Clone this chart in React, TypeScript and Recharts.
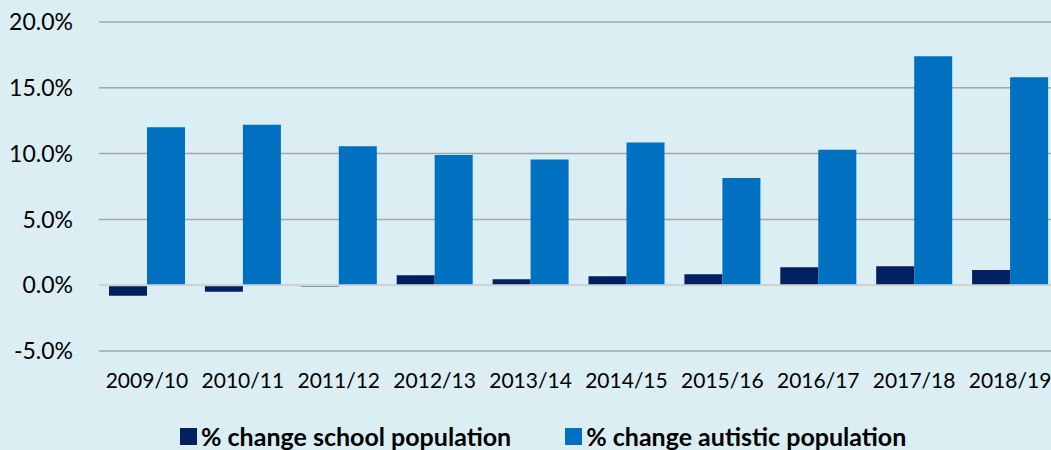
import { Bar, BarChart, CartesianGrid, Legend, ReferenceLine, XAxis, YAxis } from 'recharts';

const years = ['2009/10', '2010/11', '2011/12', '2012/13', '2013/14', '2014/15', '2015/16', '2016/17', '2017/18', '2018/19'];
const schoolChange = [-0.8, -0.5, -0.1, 0.75, 0.45, 0.68, 0.84, 1.37, 1.44, 1.16];
const autisticChange = [12.0, 12.2, 10.55, 9.9, 9.55, 10.85, 8.15, 10.3, 17.4, 15.8];
const yTicks = [-5, 0, 5, 10, 15, 20];

const colors = {
  school: '#002060',
  autistic: '#0070C0',
  bg: '#DAEEF3',
  grid: '#A6A6A6',
  zero: '#D0D4D6',
};

const data = years.map((year, i) => ({
  year,
  school: schoolChange[i],
  autistic: autisticChange[i],
}));

const legendItems = [
  { label: '% change school population', color: colors.school },
  { label: '% change autistic population', color: colors.autistic },
];

function ChartLegend() {
  return (
    <div
      style={{
        height: 44,
        boxSizing: 'border-box',
        paddingTop: 16,
        display: 'flex',
        alignItems: 'center',
        paddingLeft: 180,
        gap: 54,
      }}
    >
      {legendItems.map((item) => (
        <div key={item.label} style={{ display: 'flex', alignItems: 'center' }}>
          <span style={{ width: 17, height: 17, background: item.color, marginRight: 4, display: 'inline-block' }} />
          <span style={{ fontFamily: 'Lato', fontWeight: 700, fontSize: 25, color: '#000', whiteSpace: 'nowrap' }}>
            {item.label}
          </span>
        </div>
      ))}
    </div>
  );
}

export default function App() {
  return (
    <div style={{ position: 'absolute', left: 0, top: 0, width: 1051, height: 450, overflow: 'hidden', background: colors.bg }}>
      <BarChart
        width={1058}
        height={450}
        data={data}
        margin={{ top: 22, right: 0, left: 0, bottom: 0 }}
        barCategoryGap={10}
        barGap={0}
      >
        <CartesianGrid vertical={false} stroke={colors.grid} strokeWidth={1.5} />
        <XAxis
          dataKey="year"
          height={55}
          axisLine={false}
          tickLine={false}
          tickMargin={16}
          tick={{ fontFamily: 'Lato', fontSize: 21, fill: '#000' }}
        />
        <YAxis
          width={99}
          domain={[-5, 20]}
          ticks={yTicks}
          axisLine={false}
          tickLine={false}
          tickMargin={20}
          tickFormatter={(v) => `${Number(v).toFixed(1)}%`}
          tick={{ fontFamily: 'Lato', fontSize: 23, fill: '#000' }}
        />
        <ReferenceLine y={0} stroke={colors.zero} strokeWidth={2} />
        <Bar dataKey="school" fill={colors.school} isAnimationActive={false} />
        <Bar dataKey="autistic" fill={colors.autistic} isAnimationActive={false} />
        <Legend verticalAlign="bottom" content={() => <ChartLegend />} />
      </BarChart>
    </div>
  );
}
